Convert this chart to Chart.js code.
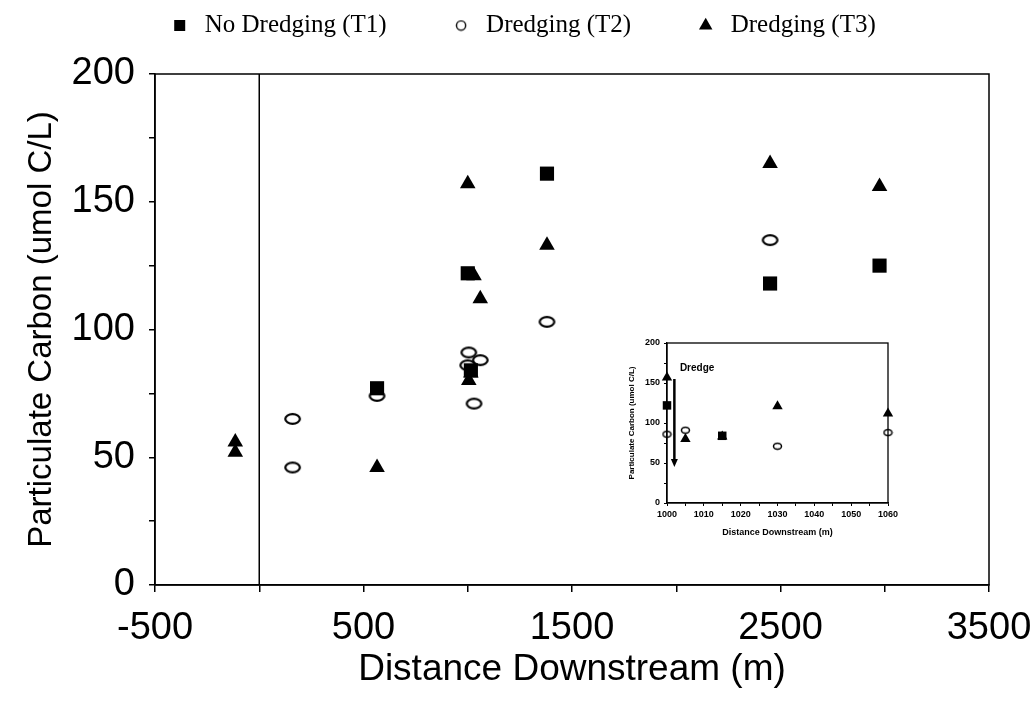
<!DOCTYPE html>
<html>
<head>
<meta charset="utf-8">
<script src="https://cdn.jsdelivr.net/npm/chart.js@4.4.0/dist/chart.umd.min.js"></script>
<style>
  html, body { margin: 0; padding: 0; background: #fff; }
  #wrap { position: relative; width: 1033px; height: 702px; }
  #main { position: absolute; left: 0; top: 0; }
  #inset { position: absolute; left: 605px; top: 333px; }
</style>
</head>
<body>
<div id="wrap">
  <canvas id="main" width="1033" height="702"></canvas>
  <canvas id="inset" width="300" height="215"></canvas>
</div>
<script>
// --- data ---
const seriesNames = ["No Dredging (T1)", "Dredging (T2)", "Dredging (T3)"];
const t1X = [565, 1000, 1015, 1380, 2450, 2975];
const t1Y = [77, 122, 84, 161, 118, 125];
const t2X = [160, 160, 565, 1000, 1005, 1030, 1060, 1380, 2450];
const t2Y = [65, 46, 74, 86, 91, 71, 88, 103, 135];
const t3X = [-115, -115, 565, 1000, 1005, 1015, 1030, 1060, 1380, 2450, 2975];
const t3Y = [56, 52, 46, 157, 80, 83, 121, 112, 133, 165, 156];

const xLabelsMain = [-500, 500, 1500, 2500, 3500];
const yLabelsMain = [0, 50, 100, 150, 200];
const xLabelsInset = [1000, 1010, 1020, 1030, 1040, 1050, 1060];
const yLabelsInset = [0, 50, 100, 150, 200];
const dredgeLineX = 0;
const insetRange = [1000, 1060];
const dredgeArrow = { x: 1002, from: 155, to: 45, label: "Dredge", labelX: 1003.5, labelY: 168 };

const SANS = "'Liberation Sans', Arial, sans-serif";
const SERIF = "'Liberation Serif', 'Times New Roman', serif";
const LEGEND_GAP = 62;

function pts(xs, ys, lo, hi) {
  const out = [];
  xs.forEach(function (x, i) {
    if (lo === undefined || (x >= lo && x <= hi)) out.push({ x: x, y: ys[i] });
  });
  return out;
}

function ellipse(w, h, lw) {
  const c = document.createElement("canvas");
  c.width = w; c.height = h;
  const g = c.getContext("2d");
  g.lineWidth = lw;
  g.strokeStyle = "#000";
  g.beginPath();
  g.ellipse(w / 2, h / 2, w / 2 - lw, h / 2 - lw, 0, 0, Math.PI * 2);
  g.stroke();
  return c;
}

const frame = {
  id: "frame",
  afterDraw(chart, args, opts) {
    const a = chart.chartArea, ctx = chart.ctx;
    ctx.save();
    ctx.strokeStyle = "#000";
    ctx.lineWidth = opts.width || 1.5;
    ctx.strokeRect(a.left, a.top, a.right - a.left, a.bottom - a.top);
    if (opts.zeroLine) {
      const x = chart.scales.x.getPixelForValue(dredgeLineX);
      ctx.beginPath();
      ctx.moveTo(x, a.top);
      ctx.lineTo(x, a.bottom);
      ctx.stroke();
    }
    ctx.restore();
  }
};

// legend padding also spaces the items apart; keep the box 74px tall and the text near the top
const legendHeight = {
  id: "legendHeight",
  beforeInit(chart) {
    const orig = chart.legend.fit;
    chart.legend.fit = function () { orig.call(this); this.height = 74; };
  },
  afterLayout(chart) {
    chart.legend.top = 13 - LEGEND_GAP;
  }
};

const legendCircle = ellipse(12, 12, 1.4);

new Chart(document.getElementById("main"), {
  type: "scatter",
  data: {
    datasets: [
      { label: seriesNames[0], data: pts(t1X, t1Y), pointStyle: "rect", pointRadius: 10,
        backgroundColor: "#000", borderColor: "#000", borderWidth: 0, clip: false },
      { label: seriesNames[1], data: pts(t2X, t2Y), pointStyle: ellipse(19, 14, 2.2), pointRadius: 8,
        backgroundColor: "#000", borderColor: "#000", clip: false },
      { label: seriesNames[2], data: pts(t3X, t3Y), pointStyle: "triangle", pointRadius: 9,
        backgroundColor: "#000", borderColor: "#000", borderWidth: 0, clip: false }
    ]
  },
  options: {
    responsive: false,
    animation: false,
    events: [],
    layout: { padding: { top: 0, right: 0, left: 10, bottom: 0 } },
    plugins: {
      tooltip: { enabled: false },
      frame: { width: 1.5, zeroLine: true },
      legend: {
        position: "top",
        labels: {
          usePointStyle: true,
          boxHeight: 11,
          padding: LEGEND_GAP,
          color: "#000",
          font: { family: SERIF, size: 25 },
          generateLabels: function () {
            return [
              { text: seriesNames[0], pointStyle: "rect", fillStyle: "#000", strokeStyle: "#000", lineWidth: 0, datasetIndex: 0 },
              { text: seriesNames[1], pointStyle: legendCircle, fillStyle: "#fff", strokeStyle: "#000", lineWidth: 0, datasetIndex: 1 },
              { text: seriesNames[2], pointStyle: "triangle", fillStyle: "#000", strokeStyle: "#000", lineWidth: 0, datasetIndex: 2 }
            ];
          }
        }
      }
    },
    scales: {
      x: {
        type: "linear",
        min: -500, max: 3500,
        afterFit: function (s) { s.height = 117; s.paddingRight = Math.min(s.paddingRight, 44); },
        ticks: {
          stepSize: 500, color: "#000", padding: 14, maxRotation: 0, autoSkip: false,
          font: { family: SANS, size: 38 },
          callback: function (v) { return xLabelsMain.indexOf(v) >= 0 ? String(v) : ""; }
        },
        grid: { drawOnChartArea: false, color: "#000", lineWidth: 1.5, tickLength: 7 },
        border: { color: "#000", width: 1.5 },
        title: {
          display: true, text: "Distance Downstream (m)", color: "#000",
          font: { family: SANS, size: 37 }, padding: { top: 0, bottom: 10 }
        }
      },
      y: {
        min: 0, max: 200,
        afterFit: function (s) { s.width = 145; },
        ticks: {
          stepSize: 25, color: "#000", padding: 14,
          font: { family: SANS, size: 38 },
          callback: function (v) { return yLabelsMain.indexOf(v) >= 0 ? String(v) : ""; }
        },
        grid: { drawOnChartArea: false, color: "#000", lineWidth: 1.5, tickLength: 6 },
        border: { color: "#000", width: 1.5 },
        title: {
          display: true, text: "Particulate Carbon (umol C/L)", color: "#000",
          font: { family: SANS, size: 33 }, padding: { top: 12, bottom: 0 }
        }
      }
    }
  },
  plugins: [frame, legendHeight]
});

// --- inset: zoom on 1000-1060 m ---
const dredgeMark = {
  id: "dredgeMark",
  afterDraw(chart) {
    const ctx = chart.ctx, sx = chart.scales.x, sy = chart.scales.y;
    const x = sx.getPixelForValue(dredgeArrow.x);
    const y0 = sy.getPixelForValue(dredgeArrow.from);
    const y1 = sy.getPixelForValue(dredgeArrow.to);
    ctx.save();
    ctx.strokeStyle = "#000";
    ctx.fillStyle = "#000";
    ctx.lineWidth = 2.5;
    ctx.beginPath();
    ctx.moveTo(x, y0);
    ctx.lineTo(x, y1 - 6);
    ctx.stroke();
    ctx.beginPath();
    ctx.moveTo(x - 3.5, y1 - 8);
    ctx.lineTo(x + 3.5, y1 - 8);
    ctx.lineTo(x, y1);
    ctx.closePath();
    ctx.fill();
    ctx.font = "bold 10px " + SANS;
    ctx.textBaseline = "middle";
    ctx.fillText(dredgeArrow.label, sx.getPixelForValue(dredgeArrow.labelX), sy.getPixelForValue(dredgeArrow.labelY));
    ctx.restore();
  }
};

new Chart(document.getElementById("inset"), {
  type: "scatter",
  data: {
    datasets: [
      { label: seriesNames[0], data: pts(t1X, t1Y, insetRange[0], insetRange[1]), pointStyle: "rect", pointRadius: 6,
        backgroundColor: "#000", borderWidth: 0, clip: false },
      { label: seriesNames[1], data: pts(t2X, t2Y, insetRange[0], insetRange[1]), pointStyle: ellipse(11, 9, 1.5), pointRadius: 4,
        backgroundColor: "#000", clip: false },
      { label: seriesNames[2], data: pts(t3X, t3Y, insetRange[0], insetRange[1]), pointStyle: "triangle", pointRadius: 6,
        backgroundColor: "#000", borderWidth: 0, clip: false }
    ]
  },
  options: {
    responsive: false,
    animation: false,
    events: [],
    layout: { padding: { top: 10, right: 17, left: 0, bottom: 0 } },
    plugins: {
      legend: { display: false },
      tooltip: { enabled: false },
      frame: { width: 1.3 }
    },
    scales: {
      x: {
        type: "linear",
        min: insetRange[0], max: insetRange[1],
        afterFit: function (s) { s.height = 45; },
        ticks: {
          stepSize: 5, color: "#000", padding: 3, maxRotation: 0, autoSkip: false,
          font: { family: SANS, size: 9, weight: "bold" },
          callback: function (v) { return xLabelsInset.indexOf(v) >= 0 ? String(v) : ""; }
        },
        grid: { drawOnChartArea: false, color: "#000", lineWidth: 1, tickLength: 3 },
        border: { color: "#000", width: 1.3 },
        title: {
          display: true, text: "Distance Downstream (m)", color: "#000",
          font: { family: SANS, size: 9, weight: "bold" }, padding: { top: 0, bottom: 10 }
        }
      },
      y: {
        min: 0, max: 200,
        afterFit: function (s) { s.width = 62; },
        ticks: {
          stepSize: 25, color: "#000", padding: 4,
          font: { family: SANS, size: 9, weight: "bold" },
          callback: function (v) { return yLabelsInset.indexOf(v) >= 0 ? String(v) : ""; }
        },
        grid: { drawOnChartArea: false, color: "#000", lineWidth: 1, tickLength: 3 },
        border: { color: "#000", width: 1.3 },
        title: {
          display: true, text: "Particulate Carbon (umol C/L)", color: "#000",
          font: { family: SANS, size: 8, weight: "bold" }, padding: { top: 22, bottom: 0 }
        }
      }
    }
  },
  plugins: [frame, dredgeMark]
});
</script>
</body>
</html>
